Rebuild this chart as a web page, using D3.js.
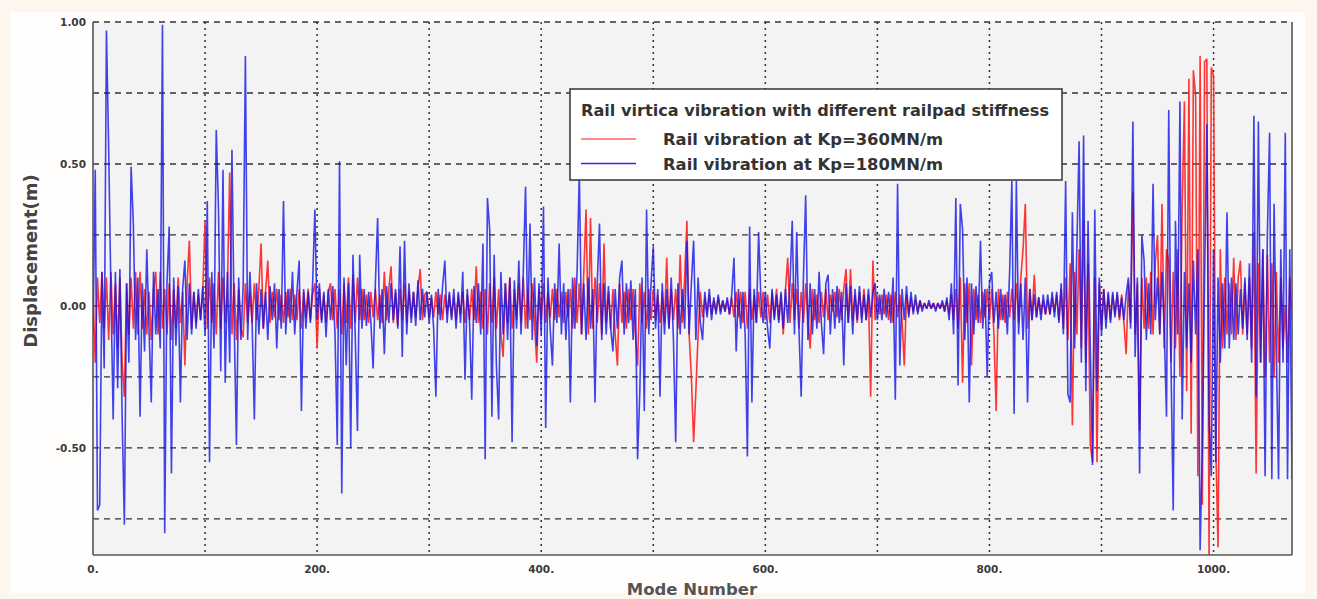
<!DOCTYPE html>
<html><head><meta charset="utf-8">
<script src="https://cdn.jsdelivr.net/npm/d3@7"></script>
<style>html,body{margin:0;padding:0;background:#fdf6ee;}svg{display:block;}</style>
</head><body>
<svg id="chart" width="1317" height="599"></svg>
<script>
const legendTitle = "Rail virtica vibration with different railpad stiffness";
const seriesNames = ["Rail vibration at Kp=360MN/m", "Rail vibration at Kp=180MN/m"];
const seriesColors = ["#ff2020", "#1414e6"];
const xTickValues = [0, 200, 400, 600, 800, 1000];
const xTickLabels = ["0.", "200.", "400.", "600.", "800.", "1000."];
const yTickValues = [1, 0.5, 0, -0.5];
const yTickLabels = ["1.00", "0.50", "0.00", "-0.50"];
const xGridValues = [100, 200, 300, 400, 500, 600, 700, 800, 900, 1000];
const yGridValues = [1, 0.75, 0.5, 0.25, 0, -0.25, -0.5, -0.75];
const modeStep = 2; // mode numbers 0,2,4,...,1070

// Rail vibration at Kp=360MN/m (red)
const kp360 = [
.05,-.2,.1,-.06,.12,-.08,.1,-.12,.12,-.1,
.08,-.15,.1,-.2,-.32,.08,-.1,.1,-.08,.12,
-.1,.12,-.08,.06,-.1,.05,-.12,.06,.12,-.1,
.12,-.08,.06,-.1,.08,-.12,.06,-.08,.1,-.06,
.05,-.21,.08,.23,-.08,.05,-.06,.04,-.05,.06,
.3,-.08,.1,-.06,.08,-.1,.12,-.08,.1,-.06,
.08,.47,-.1,.08,-.12,.06,-.08,-.11,.08,-.06,
.05,-.06,.08,-.05,.06,.22,-.08,.05,.16,-.06,
.05,-.04,.06,-.05,.04,-.06,.05,-.04,.06,-.05,
.04,-.05,.06,-.08,.05,-.04,.06,-.05,.04,.08,
-.15,.06,-.05,.04,-.06,.05,.08,-.05,.06,-.08,
.06,-.1,.08,-.06,.1,-.08,.11,-.06,.1,-.05,
.06,-.05,.04,-.06,.05,-.04,.06,-.05,.04,-.06,
.12,-.05,.06,.14,-.06,.05,-.07,.06,-.05,.08,
-.06,.05,-.04,.05,-.04,.06,.13,-.05,.04,.05,
-.04,.03,-.04,.05,-.03,.04,-.05,.04,-.03,.04,
-.04,.03,-.05,.04,-.03,.05,-.06,.04,-.05,.06,
-.05,.14,-.06,.05,-.08,.06,-.1,.08,-.06,.1,
-.08,.06,-.1,-.18,.08,-.06,.1,-.08,.06,-.05,
.08,-.06,.1,-.08,.06,-.05,.08,-.06,-.2,.06,
-.05,.08,-.06,.05,-.04,.06,-.05,.06,-.04,.05,
-.06,.05,-.04,.06,-.08,.1,-.06,.08,-.1,.12,
.34,-.1,.31,-.08,.1,-.06,.08,-.1,.22,-.06,
.05,-.08,.06,-.1,-.21,.08,-.06,.05,-.08,.06,
-.05,.06,-.1,-.21,.08,-.06,.05,-.08,.06,-.05,
.06,-.05,.04,-.06,.05,-.06,.17,-.08,.06,-.05,
.06,-.08,.18,-.06,.1,.3,-.1,-.25,-.48,-.3,
-.1,.05,-.04,.03,-.03,.04,-.03,.02,-.02,.03,
-.02,.02,-.02,.02,-.03,.03,-.04,.05,-.04,.05,
-.06,.05,-.08,.06,-.05,.04,-.06,.05,-.04,.05,
-.05,.04,-.06,.05,-.04,.06,-.05,.04,-.1,.06,
.17,-.06,.08,-.05,.06,-.08,.05,-.06,.08,-.05,
-.15,.06,-.05,.04,-.06,.05,-.04,.06,-.05,.04,
-.02,.05,-.04,.06,-.05,.06,.13,-.06,.13,-.05,
.04,-.06,.05,-.04,.06,-.05,.04,-.32,.16,-.05,
.04,-.03,.04,-.03,.04,-.05,.04,-.06,.05,-.04,
.04,-.05,-.21,.04,-.03,.03,-.02,.02,-.02,.02,
-.01,.01,-.01,.01,-.01,.01,-.01,.01,-.01,.01,
-.02,.02,-.03,.04,-.05,.06,-.08,.1,-.27,.08,
-.06,.08,-.21,.06,-.05,.04,-.06,.05,-.04,.06,
-.05,.06,-.1,-.37,.06,-.05,.04,-.06,.05,-.04,
.06,-.05,.08,-.06,.1,.2,.36,-.08,.06,-.05,
.11,-.04,.03,-.03,.02,-.03,.02,-.03,.03,-.02,
.04,-.05,.06,-.08,.1,-.12,.15,-.42,.12,-.1,
.2,-.15,.3,-.2,.15,-.49,-.55,.1,-.55,.08,
-.08,.06,-.05,.04,-.05,.04,-.03,.04,-.05,.04,
-.06,-.17,.08,-.06,.4,-.1,.08,-.44,.1,-.08,
.1,-.08,.12,-.1,.15,.25,-.1,.36,-.15,.2,
.16,-.2,.12,-.15,.2,-.25,.35,.72,-.3,.8,
-.45,.83,.74,-.6,.88,-.7,.86,.87,-.89,.84,
.81,-.5,-.85,.2,-.15,.1,-.1,.08,-.1,.17,
-.12,.1,.16,-.1,.08,-.1,.1,-.15,.26,-.59,
.15,-.2,.2,-.25,.18,-.2,.15,-.25,.12,-.2,
.1,-.15,0,-.2,.1,-.05
];

// Rail vibration at Kp=180MN/m (blue)
const kp180 = [
-.1,.48,-.72,-.7,.12,-.22,.97,.55,.05,-.4,
.12,-.29,.13,-.39,-.77,.08,-.2,.49,.29,-.12,
.1,-.39,.08,-.16,.2,-.08,-.34,.12,-.1,.06,
-.15,.99,-.8,.08,.28,-.59,.1,-.14,.07,-.34,
.06,.16,-.12,.08,-.1,.05,-.08,.06,-.05,.07,
-.1,.37,-.55,.12,-.15,.62,.34,-.23,.48,-.27,
.12,-.2,.55,-.06,-.49,.1,-.12,.07,.88,-.12,
.12,-.06,-.4,.08,-.1,.06,-.08,.05,-.12,.07,
-.05,.08,-.15,.06,-.08,.37,-.1,.06,-.06,.12,
-.1,.05,.16,-.37,.06,-.08,.05,-.06,.08,.34,
-.05,.08,-.06,.05,-.11,.06,-.05,.07,-.1,-.49,
.51,-.66,.1,-.21,.08,-.5,.18,-.1,-.44,.18,
-.08,.06,-.07,.05,-.06,-.22,.08,.31,-.08,.06,
-.17,.07,-.06,.08,-.05,.06,-.08,.21,-.18,.23,
-.1,.08,-.06,.05,-.07,.09,-.05,.06,-.04,.05,
-.06,.04,-.08,-.32,.06,-.05,.07,.16,-.06,.05,
-.05,.06,-.08,.05,-.06,.12,-.26,.06,-.05,-.33,
.07,-.06,.08,-.1,.22,-.54,.38,.27,-.39,.18,
-.21,-.4,.12,-.1,.08,-.12,.1,-.48,.09,-.08,
.16,-.1,.12,.42,-.08,.29,-.12,.1,-.14,.08,
-.1,.35,-.43,.1,-.08,-.21,.08,-.06,.22,-.1,
.08,-.12,.06,-.34,.1,-.08,.12,.47,-.1,.08,
-.12,.1,-.08,.06,-.34,.08,.29,-.12,.08,-.1,
.07,-.08,-.16,.06,-.08,.1,.16,-.1,.08,-.06,
.09,-.12,.06,-.54,-.3,.1,-.37,.34,-.1,.08,
.21,-.08,.06,-.32,.08,-.1,.06,-.08,.1,-.12,
-.48,.08,-.1,.06,-.08,.23,-.1,.08,.23,-.12,
.1,-.06,-.12,.05,-.04,.06,-.05,.03,-.03,.04,
-.03,.02,-.02,.03,-.03,.04,.17,-.16,.06,-.08,
.05,-.1,-.53,.28,-.34,.06,-.06,.26,.03,-.06,
.05,-.08,-.15,.06,-.05,.04,-.06,.05,-.08,.06,
-.06,.08,.3,-.1,.26,-.08,-.32,.1,.39,-.12,
.08,-.1,.06,-.08,.12,-.06,-.17,.08,.11,-.1,
.06,-.08,.07,-.06,.05,-.21,.08,-.06,.07,-.1,
.06,-.05,.07,-.06,.04,-.05,.06,-.04,.05,.08,
-.05,.04,-.05,.06,-.04,.05,-.06,.1,-.33,.43,
-.21,.06,-.05,.07,-.04,.05,-.03,.04,-.03,.02,
-.02,.01,-.01,.02,-.01,.01,-.02,.01,-.01,.02,
-.02,.03,-.05,.08,-.1,.38,-.28,.36,.27,-.12,
.1,-.34,.08,-.1,.07,-.06,.23,-.08,.06,-.25,
.08,.12,-.06,.05,-.08,.06,-.05,.04,-.1,.12,
.44,-.38,.44,-.1,.08,-.12,.1,-.34,.06,-.05,
.04,-.04,.03,-.05,.04,-.03,.04,-.03,.05,-.04,
.05,-.06,.08,-.1,.44,-.31,-.34,.33,-.15,.2,
.58,-.2,.6,-.3,.3,-.15,-.56,.34,-.3,.1,
-.1,.06,-.08,.05,-.06,.05,-.04,.05,-.04,.03,
-.05,.04,.1,-.08,.65,-.18,.1,-.59,.25,.16,
-.12,.08,-.1,.43,-.05,.1,-.1,.12,-.08,-.39,
.69,-.2,-.72,.3,-.1,.72,-.4,.12,-.15,.08,
-.2,.16,-.1,.2,-.86,-.5,.1,.64,-.4,-.6,
.2,-.55,.1,-.2,.08,-.15,.33,-.15,.1,-.12,
.08,-.1,.06,-.08,.1,-.12,.15,-.2,.67,-.32,
.65,-.2,.2,-.6,.25,.61,-.61,.36,-.15,-.61,
.2,-.2,.61,-.61,.2,-.61
];

const FONT = "'DejaVu Sans', Verdana, sans-serif";
const svg = d3.select("#chart");
const plot = {left: 93, right: 1292, top: 22, bottom: 555};
const x = d3.scaleLinear().domain([0, 1070]).range([plot.left, plot.right]);
const y = d3.scaleLinear().domain([-0.877, 1.0]).range([plot.bottom, plot.top]);

// panel
svg.append("rect").attr("x", 10).attr("y", 12).attr("width", 1295).attr("height", 581).attr("fill", "#fffefd");
svg.append("rect").attr("x", plot.left).attr("y", plot.top)
  .attr("width", plot.right - plot.left).attr("height", plot.bottom - plot.top).attr("fill", "#f3f3f3");

svg.append("clipPath").attr("id", "clip").append("rect")
  .attr("x", plot.left).attr("y", plot.top).attr("width", plot.right - plot.left).attr("height", plot.bottom - plot.top);

// grid
const grid = svg.append("g");
grid.selectAll("line.h").data(yGridValues).enter().append("line")
  .attr("x1", plot.left).attr("x2", plot.right).attr("y1", d => y(d)).attr("y2", d => y(d))
  .attr("stroke", "#333").attr("stroke-width", 1.3).attr("stroke-dasharray", "6,5");
grid.selectAll("line.v").data(xGridValues).enter().append("line")
  .attr("y1", plot.top).attr("y2", plot.bottom).attr("x1", d => x(d)).attr("x2", d => x(d))
  .attr("stroke", "#333").attr("stroke-width", 1.5).attr("stroke-dasharray", "2,4");

// data
const line = d3.line().x((d, i) => x(i * modeStep)).y(d => y(d));
const dataG = svg.append("g").attr("clip-path", "url(#clip)");
dataG.append("path").datum(kp360).attr("d", line).attr("fill", "none")
  .attr("stroke", seriesColors[0]).attr("stroke-width", 1.6).attr("stroke-opacity", 0.9)
  .attr("stroke-linejoin", "miter").attr("stroke-miterlimit", 2);
dataG.append("path").datum(kp180).attr("d", line).attr("fill", "none")
  .attr("stroke", seriesColors[1]).attr("stroke-width", 1.6).attr("stroke-opacity", 0.8)
  .attr("stroke-linejoin", "miter").attr("stroke-miterlimit", 2);

// frame
const fr = svg.append("g").attr("stroke", "#555").attr("stroke-width", 1.6);
fr.append("line").attr("x1", plot.left).attr("x2", plot.left).attr("y1", plot.top).attr("y2", plot.bottom);
fr.append("line").attr("x1", plot.left).attr("x2", plot.right).attr("y1", plot.bottom).attr("y2", plot.bottom);
fr.append("line").attr("x1", plot.right).attr("x2", plot.right).attr("y1", plot.top).attr("y2", plot.bottom);

// tick labels
svg.selectAll("text.yt").data(yTickValues).enter().append("text")
  .attr("x", 86).attr("y", d => y(d) + 4).attr("text-anchor", "end")
  .attr("font-family", FONT).attr("font-weight", "bold").attr("font-size", 10.5).attr("fill", "#3a3a3a")
  .text((d, i) => yTickLabels[i]);
svg.selectAll("text.xt").data(xTickValues).enter().append("text")
  .attr("x", d => x(d)).attr("y", 573).attr("text-anchor", "middle")
  .attr("font-family", FONT).attr("font-weight", "bold").attr("font-size", 10.5).attr("fill", "#3a3a3a")
  .text((d, i) => xTickLabels[i]);

// axis titles
svg.append("text").attr("x", 692).attr("y", 595).attr("text-anchor", "middle")
  .attr("font-family", FONT).attr("font-weight", "bold").attr("font-size", 16.5).attr("fill", "#555")
  .text("Mode Number");
svg.append("text").attr("transform", "translate(37,261) rotate(-90)").attr("text-anchor", "middle")
  .attr("font-family", FONT).attr("font-weight", "bold").attr("font-size", 18).attr("fill", "#444")
  .text("Displacement(m)");

// legend
const lg = svg.append("g");
lg.append("rect").attr("x", 570).attr("y", 89).attr("width", 492).attr("height", 91)
  .attr("fill", "#fff").attr("stroke", "#333").attr("stroke-width", 1.5);
lg.append("text").attr("x", 581).attr("y", 116)
  .attr("font-family", FONT).attr("font-weight", "bold").attr("font-size", 15).attr("fill", "#333")
  .attr("textLength", 468).attr("lengthAdjust", "spacingAndGlyphs")
  .text(legendTitle);
seriesNames.forEach((name, i) => {
  const yy = 139 + i * 24.5;
  lg.append("line").attr("x1", 581).attr("x2", 636).attr("y1", yy).attr("y2", yy)
    .attr("stroke", seriesColors[i]).attr("stroke-width", 1.3).attr("stroke-opacity", i === 0 ? 0.7 : 0.9);
  lg.append("text").attr("x", 663).attr("y", yy + 6)
    .attr("font-family", FONT).attr("font-weight", "bold").attr("font-size", 15).attr("fill", "#333")
    .attr("textLength", 280).attr("lengthAdjust", "spacingAndGlyphs")
    .text(name);
});
</script>
</body></html>
